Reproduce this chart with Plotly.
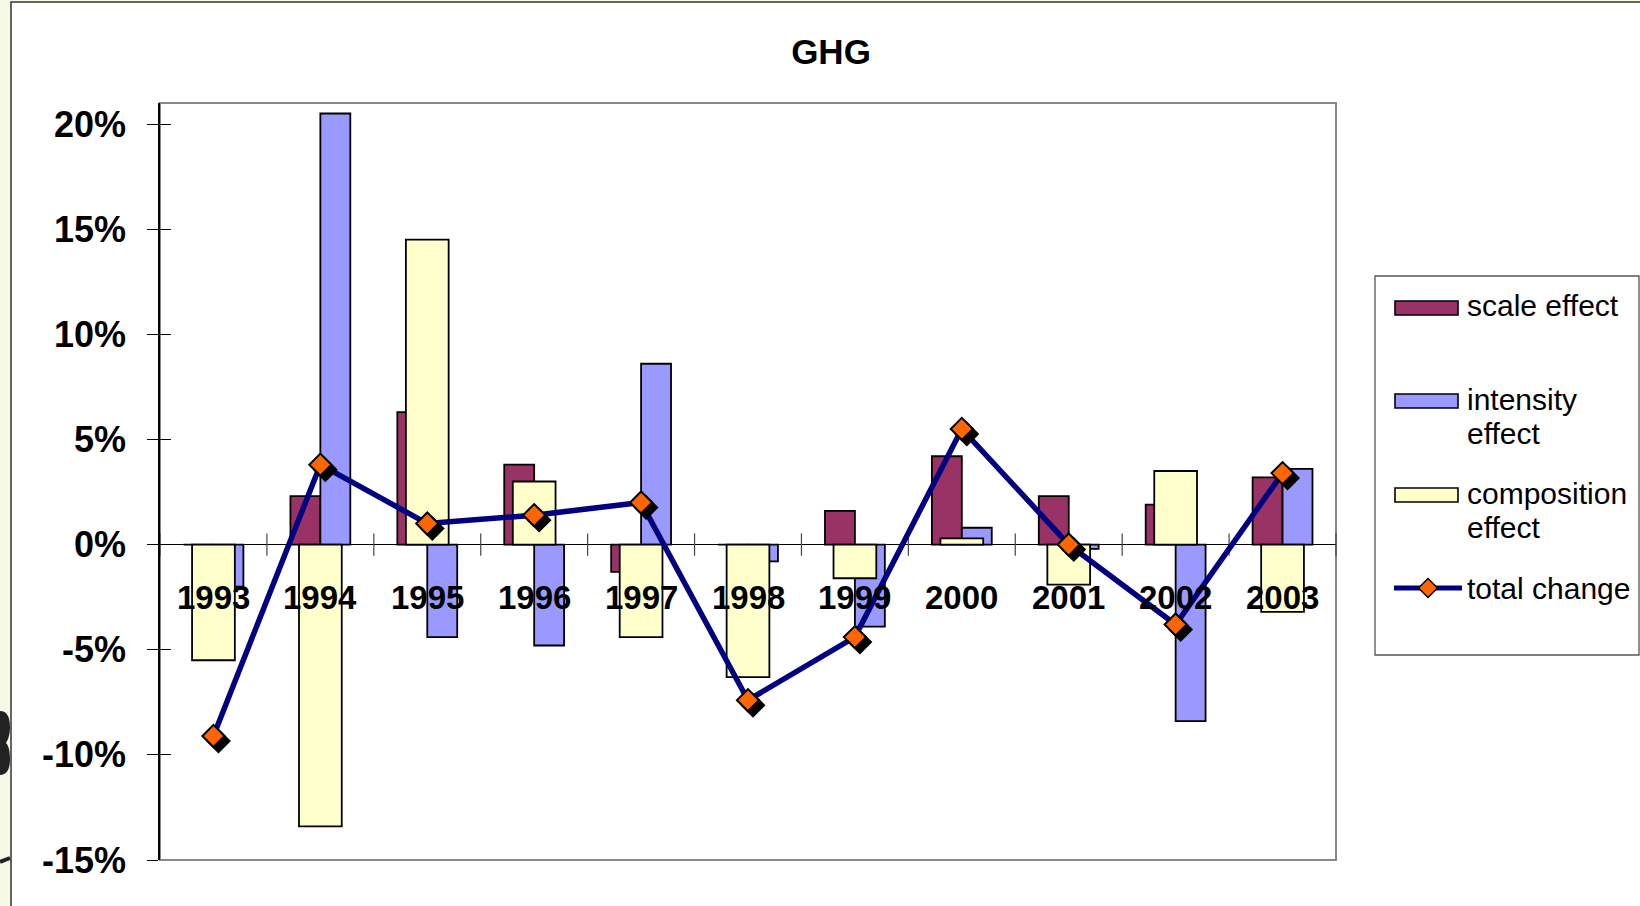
import plotly.graph_objects as go

# ---- data (percent) ----
years = [1993, 1994, 1995, 1996, 1997, 1998, 1999, 2000, 2001, 2002, 2003]
scale_effect = [0.0, 2.3, 6.3, 3.8, -1.3, 0.0, 1.6, 4.2, 2.3, 1.9, 3.2]
intensity_effect = [-2.0, 20.5, -4.4, -4.8, 8.6, -0.8, -3.9, 0.8, -0.2, -8.4, 3.6]
composition_effect = [-5.5, -13.4, 14.5, 3.0, -4.4, -6.3, -1.6, 0.3, -1.9, 3.5, -3.2]
total_change = [-9.1, 3.8, 1.0, 1.4, 2.0, -7.4, -4.4, 5.5, 0.0, -3.8, 3.4]

y_ticks = [-15, -10, -5, 0, 5, 10, 15, 20]
y_tick_labels = ["-15%", "-10%", "-5%", "0%", "5%", "10%", "15%", "20%"]
chart_title = "GHG"

# ---- colours ----
C_SCALE = "#993366"
C_INTENSITY = "#9999FF"
C_COMPOSITION = "#FFFFCC"
C_LINE = "#000080"
C_MARKER = "#FF6600"
C_PAGE = "#F8F8E8"
FONT = "Liberation Sans, Arial, sans-serif"

# ---- page / plot geometry (px) ----
W, H = 1640, 906
L, R, T, B = 160, 1336, 103, 860
Y_MIN, Y_MAX = -15, 21
X_MIN, X_MAX = years[0] - 0.5, years[-1] + 0.5


def px(x):
    """page x pixel -> paper fraction"""
    return (x - L) / (R - L)


def py(y):
    """page y pixel -> paper fraction"""
    return (B - y) / (B - T)


fig = go.Figure()

bar_line = dict(color="black", width=1.8)
fig.add_bar(x=years, y=scale_effect, width=0.28, offset=-0.28,
            marker=dict(color=C_SCALE, line=bar_line), name="scale effect")
fig.add_bar(x=years, y=intensity_effect, width=0.28, offset=0.0,
            marker=dict(color=C_INTENSITY, line=bar_line), name="intensity effect")
fig.add_bar(x=years, y=composition_effect, width=0.4, offset=-0.2,
            marker=dict(color=C_COMPOSITION, line=bar_line), name="composition effect")

# tick marks crossing the category axis at y = 0, between categories
boundaries = [yr - 0.5 for yr in years] + [years[-1] + 0.5]
fig.add_scatter(x=boundaries, y=[0] * len(boundaries), mode="markers",
                marker=dict(symbol="line-ns", size=16,
                            line=dict(color="#444444", width=1.2)),
                cliponaxis=False, hoverinfo="skip", showlegend=False)

# total change line
fig.add_scatter(x=years, y=total_change, mode="lines",
                line=dict(color=C_LINE, width=5.5), name="total change")

# marker drop-shadow: same points on an axis pair shifted a few pixels
SHADOW_DX, SHADOW_DY = 5, 5
sx = SHADOW_DX * (X_MAX - X_MIN) / (R - L)
sy = SHADOW_DY * (Y_MAX - Y_MIN) / (B - T)
fig.add_scatter(x=years, y=total_change, mode="markers", xaxis="x2", yaxis="y2",
                marker=dict(symbol="diamond", size=17, color="black",
                            line=dict(color="black", width=2)),
                hoverinfo="skip", showlegend=False)
fig.add_scatter(x=years, y=total_change, mode="markers", xaxis="x3", yaxis="y3",
                marker=dict(symbol="diamond", size=17, color=C_MARKER,
                            line=dict(color="black", width=2)),
                showlegend=False)

hidden_x = dict(showgrid=False, zeroline=False, showline=False,
                showticklabels=False, ticks="")

fig.update_layout(
    width=W, height=H,
    margin=dict(l=L, r=W - R, t=T, b=H - B, pad=0),
    paper_bgcolor=C_PAGE,
    plot_bgcolor="rgba(0,0,0,0)",
    barmode="overlay",
    showlegend=False,
    font=dict(family=FONT, color="black"),
    title=dict(text="<b>%s</b>" % chart_title, font=dict(size=35, family=FONT),
               xref="paper", x=px(831), xanchor="center",
               yref="container", y=1 - 52 / H, yanchor="middle"),
    xaxis=dict(range=[X_MIN, X_MAX], **hidden_x),
    xaxis2=dict(range=[X_MIN - sx, X_MAX - sx], overlaying="x", **hidden_x),
    xaxis3=dict(range=[X_MIN, X_MAX], overlaying="x", **hidden_x),
    yaxis=dict(range=[Y_MIN, Y_MAX], tickvals=y_ticks, ticktext=y_tick_labels,
               tickfont=dict(size=36, family=FONT, color="black", weight="bold"),
               ticks="outside", ticklen=11, tickwidth=1.2, tickcolor="black",
               ticklabelstandoff=14,
               showline=True, linecolor="black", linewidth=1.5,
               showgrid=False, zeroline=True, zerolinecolor="black",
               zerolinewidth=1.3),
    yaxis2=dict(range=[Y_MIN + sy, Y_MAX + sy], overlaying="y", anchor="x2",
                showgrid=False, zeroline=False, showline=False,
                showticklabels=False, ticks=""),
    yaxis3=dict(range=[Y_MIN, Y_MAX], overlaying="y", anchor="x3",
                tickvals=y_ticks, ticks="inside", ticklen=11, tickwidth=1.2,
                tickcolor="black", showticklabels=False,
                showgrid=False, zeroline=False, showline=False),
)


def paper_path(points):
    """closed path in paper fractions from a list of ('M'|'L'|'C', px coords...)"""
    parts = []
    for cmd, *coords in points:
        pts = []
        for i in range(0, len(coords), 2):
            pts.append("%.5f,%.5f" % (px(coords[i]), py(coords[i + 1])))
        parts.append(cmd + " " + " ".join(pts))
    return " ".join(parts) + " Z"


shapes = []
# white chart area with its frame, leaving a strip of the page on the left
shapes.append(dict(type="rect", xref="paper", yref="paper", layer="below",
                   x0=px(11), x1=px(W + 40), y0=py(H + 40), y1=py(2),
                   fillcolor="white", line=dict(color="#333333", width=1.5)))
# plot area border
shapes.append(dict(type="rect", xref="paper", yref="paper", layer="below",
                   x0=0, x1=1, y0=0, y1=1,
                   line=dict(color="#888888", width=2)))
# stroke fragments on the page strip
shapes.append(dict(type="line", xref="paper", yref="paper",
                   x0=px(0), y0=py(862), x1=px(10), y1=py(858),
                   line=dict(color="#222222", width=4)))
shapes.append(dict(type="path", xref="paper", yref="paper",
                   path=paper_path([("M", 0, 711), ("C", 7, 711, 10, 717, 10, 727),
                                    ("C", 10, 735, 8, 740, 6, 743),
                                    ("C", 9, 746, 10, 752, 10, 759),
                                    ("C", 10, 769, 7, 775, 0, 775)]),
                   fillcolor="#222222", line=dict(width=0)))

# legend box
LEG_X0, LEG_X1, LEG_Y0, LEG_Y1 = 1375, 1639, 276, 655
shapes.append(dict(type="rect", xref="paper", yref="paper",
                   x0=px(LEG_X0), x1=px(LEG_X1), y0=py(LEG_Y1), y1=py(LEG_Y0),
                   fillcolor="white", line=dict(color="#555555", width=1.3)))
SW_X0, SW_X1, SW_H = 1395, 1458, 14
for color, yc in [(C_SCALE, 308), (C_INTENSITY, 401), (C_COMPOSITION, 495)]:
    shapes.append(dict(type="rect", xref="paper", yref="paper",
                       x0=px(SW_X0), x1=px(SW_X1),
                       y0=py(yc + SW_H / 2), y1=py(yc - SW_H / 2),
                       fillcolor=color, line=dict(color="black", width=1.6)))
# total change legend sample: line + diamond
LY = 588
shapes.append(dict(type="line", xref="paper", yref="paper",
                   x0=px(1394), x1=px(1462), y0=py(LY), y1=py(LY),
                   line=dict(color=C_LINE, width=5)))
dcx, dr = 1428, 9.5
shapes.append(dict(type="path", xref="paper", yref="paper",
                   path=paper_path([("M", dcx - dr, LY), ("L", dcx, LY - dr),
                                    ("L", dcx + dr, LY), ("L", dcx, LY + dr)]),
                   fillcolor=C_MARKER, line=dict(color="black", width=1.5)))

annotations = []
# category labels just below the zero line
for yr in years:
    annotations.append(dict(x=yr, y=0, xref="x", yref="y", text="<b>%d</b>" % yr,
                            showarrow=False, xanchor="center", yanchor="middle",
                            yshift=-53, font=dict(size=33, family=FONT, color="black")))
# legend texts
legend_lines = [("scale effect", 305), ("intensity", 400), ("effect", 433),
                ("composition", 493), ("effect", 527), ("total change", 588)]
for txt, yc in legend_lines:
    annotations.append(dict(x=px(1465), y=py(yc), xref="paper", yref="paper",
                            text=txt, showarrow=False, xanchor="left",
                            yanchor="middle",
                            font=dict(size=30, family=FONT, color="black")))

fig.update_layout(shapes=shapes, annotations=annotations)

fig.write_html("out.html")
